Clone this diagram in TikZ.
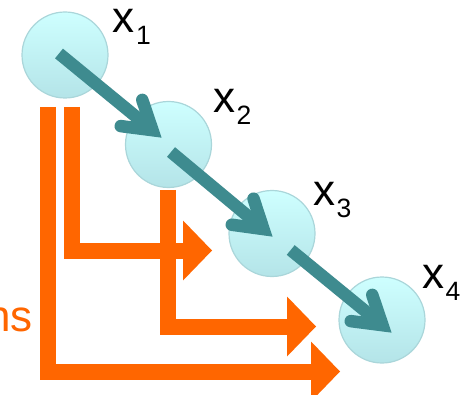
\documentclass[tikz,border=0pt]{standalone}
\usepackage{fontspec}
\setmainfont{Liberation Sans}
\usetikzlibrary{arrows.meta,calc}

\definecolor{nodetop}{RGB}{206,255,255}
\definecolor{nodebot}{RGB}{180,228,232}
\definecolor{nodeedge}{RGB}{170,214,218}
\definecolor{chain}{RGB}{62,139,143}
\definecolor{flow}{RGB}{255,102,0}

% variable name with a large subscript index
\newcommand\varlab[1]{{\fontsize{44}{44}\selectfont x}\kern1.5pt\raisebox{-12pt}{\fontsize{26.5}{26.5}\selectfont #1}}

% teal chain arrow: straight shaft plus an open, round-ended barb
\newcommand\chainarrow[2]{%
  \draw[chainline] (#1) -- (#2);
  \draw[chainhead] ($(#2)!32pt!32:(#1)$) -- (#2) -- ($(#2)!32pt!-32:(#1)$);
}

\begin{document}
\begin{tikzpicture}[x=1pt,y=-1pt,
  state/.style={circle, minimum size=86pt, inner sep=0pt, draw=nodeedge,
    line width=1.2pt, top color=nodetop, bottom color=nodebot},
  chainline/.style={draw=chain, line width=12.5pt, line cap=butt},
  chainhead/.style={draw=chain, line width=12.5pt, line cap=round, line join=miter},
  flowarrow/.style={draw=flow, line width=16pt, line join=miter,
    -{Triangle[length=29pt,width=60pt,line width=0pt]}},
  varname/.style={anchor=base west, inner sep=0pt},
]
\useasboundingbox (0,0) rectangle (465,395);

% orange block arrows
\coordinate (fa0) at (47.5,107);  \coordinate (fa1) at (340,371.5);
\coordinate (fb0) at (71.5,107);  \coordinate (fb1) at (212,250.5);
\coordinate (fc0) at (167.5,190); \coordinate (fc1) at (316,326.5);
\draw[flowarrow] (fa0) |- (fa1);
\draw[flowarrow] (fb0) |- (fb1);
\draw[flowarrow] (fc0) |- (fc1);

\node[anchor=base east, inner sep=0pt, text=flow, font=\fontsize{44}{44}\selectfont] (ns) at (33,331) {ns};

% states
\node[state] (c1) at (65,55) {};
\node[state] (c2) at (168.5,144.5) {};
\node[state] (c3) at (272,233.5) {};
\node[state] (c4) at (382,320) {};

% chain arrows between the states
\coordinate (s1) at ($(c1)+(-6,-1.5)$);   \coordinate (g1) at ($(c2)+(-16,-14.3)$);
\coordinate (s2) at ($(c2)+(2.5,7.5)$);   \coordinate (g2) at ($(c3)+(-8.5,-4.4)$);
\coordinate (s3) at ($(c3)+(18.7,16.5)$); \coordinate (g3) at ($(c4)+(0.5,5.2)$);
\chainarrow{s1}{g1}
\chainarrow{s2}{g2}
\chainarrow{s3}{g3}

% labels
\node[varname] (l1) at (112.5,33) {\varlab{1}};
\node[varname] (l2) at (213,113) {\varlab{2}};
\node[varname] (l3) at (313,205) {\varlab{3}};
\node[varname] (l4) at (422,288) {\varlab{4}};
\end{tikzpicture}
\end{document}
